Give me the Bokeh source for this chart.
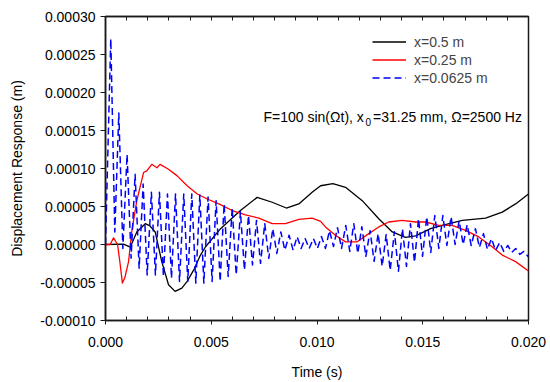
import numpy as np
from bokeh.plotting import figure
from bokeh.models import Range1d, FixedTicker, PrintfTickFormatter, LinearAxis, Label, Legend, LegendItem
from bokeh.embed import file_html
from bokeh.resources import INLINE

# ---- data: time in ms, displacement in 1e-5 m ----
black_t = [0, 0.85, 1.17, 1.48, 1.88, 2.10, 2.35, 2.66, 2.98, 3.29,
           3.61, 3.86, 4.20, 4.49, 4.73, 5.44, 6.38, 7.17, 7.88, 8.55,
           9.14, 9.77, 10.17, 10.75, 11.35, 12.14, 12.92, 13.56, 14.18, 14.66,
           15.37, 15.92, 16.87, 17.97, 18.76, 19.39, 20.0]
black_v = [0, 0.05, -0.35, 1.65, 2.74, 2.45, 1.65, -2.25, -5.3, -6.17,
           -5.73, -4.86, -3.2, -1.39, -0.3, 2.08, 4.47, 6.2, 5.56, 4.8,
           5.34, 6.87, 7.73, 8.0, 7.52, 5.77, 3.39, 1.65, 0.95, 1.13,
           2.08, 2.51, 3.17, 3.48, 4.26, 5.34, 6.64]

red_t = [0, 0.22, 0.38, 0.57, 0.68, 0.80, 0.92, 1.09, 1.24, 1.48,
         1.80, 1.95, 2.19, 2.43, 2.58, 2.98, 3.39, 3.86, 4.34, 4.81,
         5.36, 5.99, 6.62, 7.25, 7.88, 8.51, 9.14, 9.77, 10.17, 10.40,
         10.87, 11.35, 11.90, 12.45, 12.92, 13.39, 14.03, 14.66, 15.13, 15.76,
         16.39, 17.02, 17.65, 18.28, 18.76, 19.39, 20.0]
red_v = [0, 0, 0.87, 0.0, -2.3, -5.08, -4.3, -2.26, 1.65, 5.77,
         9.47, 9.68, 10.55, 10.1, 10.55, 9.9, 9.03, 7.73, 6.65, 5.99,
         5.34, 4.47, 3.91, 3.48, 2.74, 2.74, 3.30, 3.48, 3.04, 2.31,
         1.21, 0.35, 0.35, 1.43, 2.31, 2.96, 3.17, 2.96, 2.96, 2.51,
         2.51, 1.86, 1.00, -0.30, -1.39, -2.25, -3.48]

blue_t = [0.0,
          0.25, 0.44, 0.63, 0.82, 1.02, 1.21, 1.40, 1.59, 1.78, 1.97,
          2.17, 2.36, 2.55, 2.74, 2.93, 3.12, 3.31, 3.50, 3.70, 3.89,
          4.08, 4.27, 4.46, 4.65, 4.85, 5.04, 5.23, 5.42, 5.61, 5.80,
          5.99, 6.18, 6.38, 6.57, 6.76, 6.95, 7.14, 7.33, 7.53, 7.72,
          7.91, 8.10, 8.29, 8.48, 8.68, 8.87, 9.06, 9.25, 9.44, 9.63,
          9.83, 10.02, 10.21, 10.40, 10.59, 10.78, 10.97, 11.16, 11.36, 11.55,
          11.74, 11.93, 12.12, 12.31, 12.51, 12.70, 12.89, 13.08, 13.27, 13.46,
          13.66, 13.85, 14.04, 14.23, 14.42, 14.61, 14.80, 14.99, 15.19, 15.38,
          15.57, 15.76, 15.95, 16.14, 16.34, 16.53, 16.72, 16.91, 17.10, 17.29,
          17.49, 17.68, 17.87, 18.06, 18.25, 18.44, 18.64, 18.83, 19.02, 19.21,
          19.40, 19.59, 19.78, 19.97,
          20.0]
blue_v = [0.0,
          27.06, 1.65, 17.29, -0.52, 11.86, -1.82, 9.25, -3.13, 7.95, -4.00,
          6.87, -4.00, 6.87, -4.21, 6.65, -4.43, 6.65, -4.86, 6.65, -4.86,
          6.65, -5.08, 6.51, -5.08, 6.25, -4.86, 5.77, -4.86, 5.34, -4.21,
          4.82, -4.00, 4.30, -3.35, 3.82, -2.70, 3.17, -2.48, 2.74, -1.82,
          2.08, -1.17, 1.65, -0.74, 1.21, -0.74, 1.04, -0.52, 0.78, -0.52,
          0.78, -0.52, 1.04, -0.52, 1.82, -0.26, 2.21, -0.52, 2.51, -0.91,
          2.74, -1.17, 2.35, -1.56, 1.82, -2.21, 1.43, -2.87, 1.30, -3.39,
          1.69, -3.52, 2.08, -2.87, 2.74, -2.35, 3.39, -1.56, 3.65, -1.04,
          3.82, -0.52, 3.82, -0.13, 3.65, 0.00, 3.13, 0.00, 2.61, -0.13,
          2.08, -0.39, 1.43, -0.65, 0.78, -0.78, 0.26, -0.91, -0.13, -1.04,
          -0.52, -1.30, -0.91, -1.56,
          -1.40]

labels = ["x=0.5 m", "x=0.25 m", "x=0.0625 m"]
x_ticks = [0.0, 0.005, 0.010, 0.015, 0.020]
x_minor = [0.001, 0.002, 0.003, 0.004, 0.006, 0.007, 0.008, 0.009, 0.011, 0.012,
           0.013, 0.014, 0.016, 0.017, 0.018, 0.019]
top_ticks = [0.001, 0.002, 0.003, 0.004, 0.005, 0.006, 0.007, 0.008, 0.009, 0.010,
             0.011, 0.012, 0.013, 0.014, 0.015, 0.016, 0.017, 0.018, 0.019]
y_ticks = [-0.0001, -0.00005, 0.0, 0.00005, 0.0001, 0.00015, 0.0002, 0.00025, 0.0003]

def sec(a):
    return np.array(a) * 1e-3

def met(a):
    return np.array(a) * 1e-5

FONT = "Liberation Sans"

p = figure(width=550, height=382, output_backend="svg", toolbar_location=None,
           x_range=Range1d(0, 0.02), y_range=Range1d(-0.0001, 0.0003),
           min_border_left=105, min_border_right=22, min_border_top=16, min_border_bottom=59,
           x_axis_label="Time (s)", y_axis_label="Displacement Response (m)")
p.xgrid.visible = False
p.ygrid.visible = False
p.background_fill_color = "white"
p.border_fill_color = "white"
p.outline_line_color = "#1a1a1a"
p.outline_line_width = 1.5

ax = p.xaxis[0]
ax.ticker = FixedTicker(ticks=x_ticks, minor_ticks=x_minor)
ax.formatter = PrintfTickFormatter(format="%.3f")
ay = p.yaxis[0]
ay.ticker = FixedTicker(ticks=y_ticks)
ay.formatter = PrintfTickFormatter(format="%.5f")
for a in (ax, ay):
    a.axis_line_color = "#1a1a1a"
    a.axis_line_width = 1.5
    a.major_tick_line_color = "#1a1a1a"
    a.minor_tick_line_color = "#1a1a1a"
    a.major_tick_line_width = 1
    a.minor_tick_line_width = 1
    a.major_label_text_font = FONT
    a.major_label_text_font_size = "14px"
    a.major_label_text_color = "black"
    a.axis_label_text_font = FONT
    a.axis_label_text_font_size = "14px"
    a.axis_label_text_font_style = "normal"
    a.axis_label_text_color = "black"
ax.major_tick_in = 0
ax.major_tick_out = 4
ax.minor_tick_in = 4
ax.minor_tick_out = 0
ax.major_label_standoff = 12
ax.axis_label_standoff = 14
ay.major_tick_in = 0
ay.major_tick_out = 5
ay.minor_tick_line_color = None
ay.major_label_standoff = 5
ay.axis_label_standoff = 12

top = LinearAxis(ticker=FixedTicker(ticks=[], minor_ticks=top_ticks),
                 major_label_standoff=0, major_tick_in=0, major_tick_out=0,
                 minor_tick_in=4, minor_tick_out=0,
                 axis_line_color="#1a1a1a", axis_line_width=1.5,
                 major_tick_line_color=None, minor_tick_line_color="#1a1a1a")
p.add_layout(top, "above")

rb = p.line(sec(black_t), met(black_v), line_color="black", line_width=1.3, line_join="round")
rr = p.line(sec(red_t), met(red_v), line_color="#ff0000", line_width=1.3, line_join="round")
rbl = p.line(sec(blue_t), met(blue_v), line_color="#0000ff", line_width=1.5,
             line_dash="7 4", line_join="round")

legend = Legend(items=[LegendItem(label=labels[0], renderers=[rb]),
                       LegendItem(label=labels[1], renderers=[rr]),
                       LegendItem(label=labels[2], renderers=[rbl])],
                location=(267, 234), orientation="vertical",
                padding=0, margin=0, spacing=1,
                glyph_width=34, glyph_height=17, label_height=17, label_standoff=8,
                label_text_font=FONT, label_text_font_size="14px",
                border_line_alpha=0, background_fill_alpha=0)
p.add_layout(legend)

# annotation F=100 sin(Ωt), x0=31.25 mm, Ω=2500 Hz
ann_x = 0.00747
ann_y = 0.0001672
sub_y = 0.0001615
common = dict(text_font=FONT, text_color="black", text_baseline="alphabetic", text_align="left")
p.add_layout(Label(x=ann_x, y=ann_y, text="F=100 sin(\u03a9t), x", text_font_size="14px", **common))
p.add_layout(Label(x=ann_x, y=sub_y, x_offset=102, text="0", text_font_size="10px", **common))
p.add_layout(Label(x=ann_x, y=ann_y, x_offset=109.5, text="=31.25 mm, \u03a9=2500 Hz",
                   text_font_size="14px", **common))

open("out.html", "w").write(file_html(p, INLINE))
